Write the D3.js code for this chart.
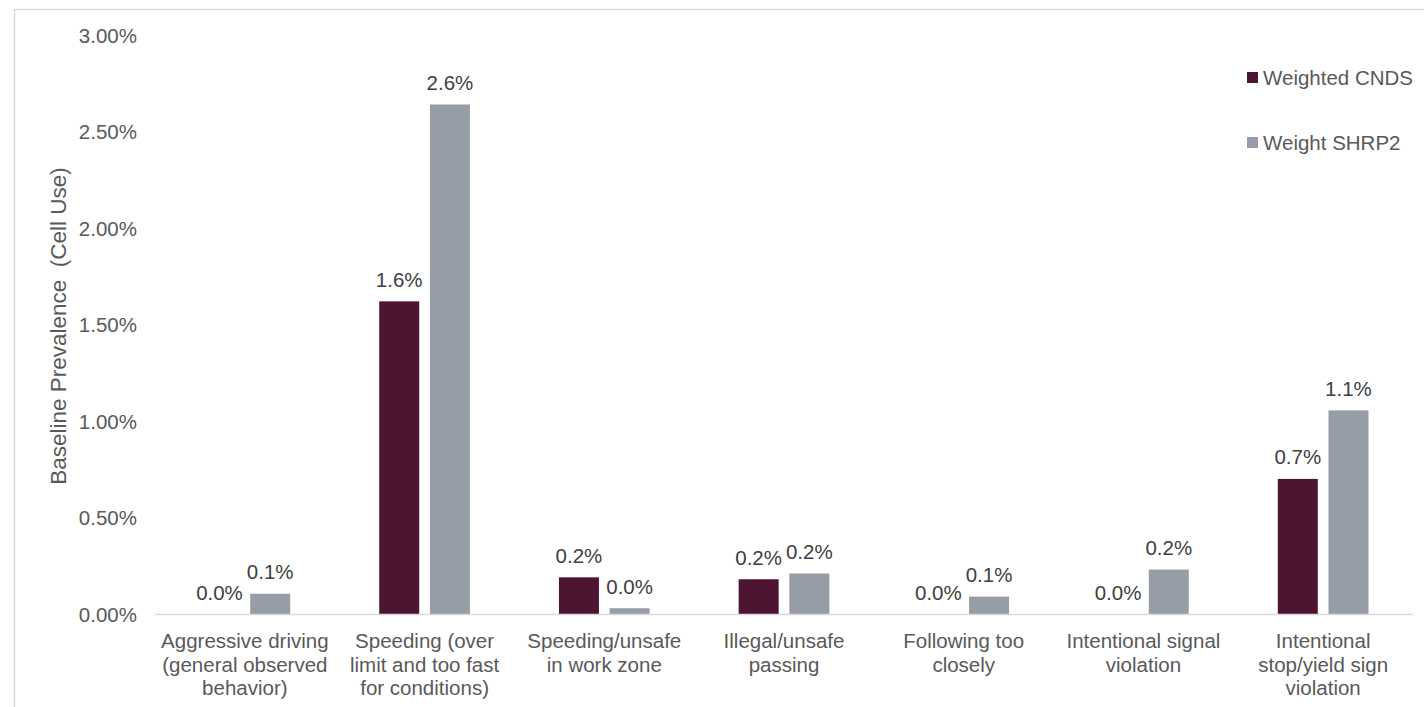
<!DOCTYPE html>
<html>
<head>
<meta charset="utf-8">
<script src="https://cdn.jsdelivr.net/npm/d3@7"></script>
<style>
  html, body { margin: 0; padding: 0; background: #ffffff; }
  svg { display: block; font-family: "Liberation Sans", Arial, Helvetica, sans-serif; }
</style>
</head>
<body>
<svg id="chart" width="1424" height="707"></svg>
<script>
// Category labels, one array of lines per category
const categories = [
  ["Aggressive driving", "(general observed", "behavior)"],
  ["Speeding (over", "limit and too fast", "for conditions)"],
  ["Speeding/unsafe", "in work zone"],
  ["Illegal/unsafe", "passing"],
  ["Following too", "closely"],
  ["Intentional signal", "violation"],
  ["Intentional", "stop/yield sign", "violation"]
];

// Baseline prevalence (%) for each series
const seriesNames = ["Weighted CNDS", "Weight SHRP2"];
const cndsValues  = [0.0, 1.62, 0.19, 0.18, 0.0, 0.0, 0.70];
const shrp2Values = [0.105, 2.64, 0.03, 0.21, 0.09, 0.23, 1.055];

const yTicks = [0, 0.5, 1.0, 1.5, 2.0, 2.5, 3.0];
const seriesColors = ["#4e1532", "#979da6"];

const svg = d3.select("#chart");

// Outer frame of the chart area
svg.append("rect")
  .attr("x", 14.5).attr("y", 9.5)
  .attr("width", 1500).attr("height", 800)
  .attr("fill", "none")
  .attr("stroke", "#d9d9d9")
  .attr("stroke-width", 1.5);

const plotLeft = 155, plotRight = 1413, plotBottom = 614, plotTop = 35;

const x0 = d3.scaleBand()
  .domain(d3.range(categories.length))
  .range([plotLeft, plotRight])
  .padding(0);

const groupWidth = 90.7;
const x1 = d3.scaleBand()
  .domain(seriesNames)
  .range([(x0.bandwidth() - groupWidth) / 2, (x0.bandwidth() + groupWidth) / 2])
  .paddingInner(0.211)
  .paddingOuter(0);

const y = d3.scaleLinear().domain([0, 3]).range([plotBottom, plotTop]);

// Y axis tick labels
const yAxis = d3.axisLeft(y)
  .tickValues(yTicks)
  .tickFormat(d => d3.format(".2f")(d) + "%")
  .tickSize(0)
  .tickPadding(0);

const yG = svg.append("g")
  .attr("transform", "translate(137,0)")
  .call(yAxis);
yG.select(".domain").remove();
yG.selectAll("text")
  .attr("x", 0)
  .attr("dy", "0.35em")
  .attr("fill", "#595959")
  .style("font-size", "20.5px")
  .style("font-family", "'Liberation Sans', Arial, sans-serif");

// Y axis title
svg.append("text")
  .attr("transform", "translate(66,326) rotate(-90)")
  .attr("text-anchor", "middle")
  .attr("fill", "#595959")
  .style("font-size", "22.5px")
  .style("white-space", "pre")
  .text("Baseline Prevalence  (Cell Use)");

// Bars
const rows = categories.map((c, i) => ({
  i,
  values: [
    { name: seriesNames[0], value: cndsValues[i], color: seriesColors[0] },
    { name: seriesNames[1], value: shrp2Values[i], color: seriesColors[1] }
  ]
}));

const groups = svg.append("g").selectAll("g")
  .data(rows)
  .join("g")
  .attr("transform", d => `translate(${x0(d.i)},0)`);

groups.selectAll("rect")
  .data(d => d.values)
  .join("rect")
  .attr("x", d => x1(d.name))
  .attr("y", d => y(d.value))
  .attr("width", x1.bandwidth())
  .attr("height", d => y(0) - y(d.value))
  .attr("fill", d => d.color);

// Value labels above bars
groups.selectAll("text.value")
  .data(d => d.values)
  .join("text")
  .attr("class", "value")
  .attr("x", d => x1(d.name) + x1.bandwidth() / 2)
  .attr("y", d => y(d.value) - 14.5)
  .attr("text-anchor", "middle")
  .attr("fill", "#404040")
  .style("font-size", "20.5px")
  .text(d => d3.format(".1f")(d.value) + "%");

// X axis baseline
svg.append("line")
  .attr("x1", plotLeft).attr("x2", plotRight)
  .attr("y1", y(0) + 0.5).attr("y2", y(0) + 0.5)
  .attr("stroke", "#d9d9d9")
  .attr("stroke-width", 1.5);

// Category labels
const catLabels = svg.append("g").selectAll("text")
  .data(categories)
  .join("text")
  .attr("text-anchor", "middle")
  .attr("fill", "#595959")
  .style("font-size", "20.5px")
  .attr("transform", (d, i) => `translate(${x0(i) + x0.bandwidth() / 2},648)`);

catLabels.selectAll("tspan")
  .data(d => d)
  .join("tspan")
  .attr("x", 0)
  .attr("y", (d, j) => j * 23.5)
  .text(d => d);

// Legend
const legend = svg.append("g").selectAll("g")
  .data(seriesNames)
  .join("g")
  .attr("transform", (d, i) => `translate(1247,${72 + i * 65})`);

legend.append("rect")
  .attr("width", 11).attr("height", 11)
  .attr("fill", (d, i) => seriesColors[i]);

legend.append("text")
  .attr("x", 16)
  .attr("y", 13)
  .attr("fill", "#595959")
  .style("font-size", "20.5px")
  .text(d => d);
</script>
</body>
</html>
